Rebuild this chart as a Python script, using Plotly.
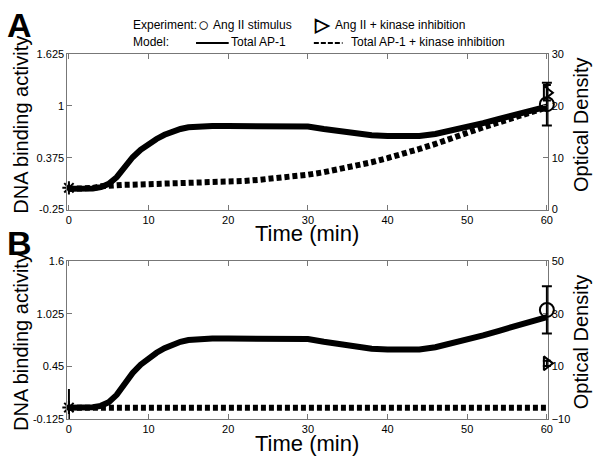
import plotly.graph_objects as go

W, H = 600, 467

# ---------------- data ----------------
time = [0, 2, 3, 4, 5, 6, 7, 8, 9, 10, 11, 12, 13, 14, 15, 16, 18, 20, 22, 24, 26, 28,
        30, 32, 34, 36, 38, 40, 42, 44, 46, 48, 50, 52, 54, 56, 58, 60]
ap1_total = [0.00, 0.00, 0.005, 0.02, 0.06, 0.14, 0.26, 0.38, 0.47, 0.54, 0.60, 0.65, 0.69,
             0.72, 0.74, 0.75, 0.755, 0.755, 0.755, 0.755, 0.755, 0.755,
             0.75, 0.72, 0.69, 0.665, 0.645, 0.635, 0.63, 0.635, 0.66, 0.70, 0.75, 0.79,
             0.84, 0.89, 0.94, 0.99]
ap1_inhib_A = [0.00, 0.00, 0.01, 0.03, 0.04, 0.045, 0.048, 0.05, 0.052, 0.055, 0.057, 0.06,
               0.062, 0.065, 0.067, 0.07, 0.08, 0.085, 0.095, 0.11, 0.125, 0.145,
               0.17, 0.20, 0.235, 0.275, 0.32, 0.37, 0.42, 0.48, 0.54, 0.61, 0.68, 0.74,
               0.80, 0.86, 0.92, 0.98]
ap1_inhib_B = [0.0] * len(time)

# experimental (optical density, right axis)
exp0_t = [0]
exp_t = [60]
A_exp0, A_exp0_err = [4.2], [0.8]
A_stim, A_stim_err = [20.3], [4.1]
A_kin, A_kin_err = [22.5], [1.5]
B_exp0, B_exp0_err = [-5.6], [7.0]
B_stim, B_stim_err = [31.5], [9.0]
B_kin, B_kin_err = [11.2], [1.0]

# axis ticks
A_left_ticks = [-0.25, 0.375, 1, 1.625]
A_left_text = ["-0.25", "0.375", "1", "1.625"]
A_right_ticks = [0, 10, 20, 30]
B_left_ticks = [-0.125, 0.45, 1.025, 1.6]
B_left_text = ["-0.125", "0.45", "1.025", "1.6"]
B_right_ticks = [-10, 10, 30, 50]
x_ticks = [0, 10, 20, 30, 40, 50, 60]
x_range = [-0.2, 60.2]
A_left_range, A_right_range = [-0.25, 1.625], [0, 30]
B_left_range, B_right_range = [-0.125, 1.6], [-10, 50]


def px(x):
    return x / W


def py(y):
    return 1 - y / H


FONT = "Liberation Sans, Arial, sans-serif"
AX = "#777777"

# pixel geometry
X0, X1 = 67, 553
A_T, A_B = 49, 209
B_T, B_B = 262, 424
EXT = 25  # extra unclipped room for the experimental markers / error bars at t = 60


def extend(rng, p_lo, p_hi, e):
    # rng spans p_hi - p_lo pixels; widen by e pixels on both sides
    k = (rng[1] - rng[0]) / (p_hi - p_lo)
    return [rng[0] - e * k, rng[1] + e * k]


fig = go.Figure()

solid = dict(color="black", width=6)
dashed = dict(color="black", width=6, dash="5px,3px")

panels = [
    ("x", "y", "y2", "x3", "y5", ap1_inhib_A, A_exp0, A_exp0_err, A_stim, A_stim_err, A_kin, A_kin_err),
    ("x2", "y3", "y4", "x4", "y6", ap1_inhib_B, B_exp0, B_exp0_err, B_stim, B_stim_err, B_kin, B_kin_err),
]

for xa, yl, yr, xe, ye, inhib, e0, e0e, st, ste, kn, kne in panels:
    fig.add_trace(go.Scatter(x=time, y=inhib, mode="lines", line=dashed, xaxis=xa, yaxis=yl,
                             showlegend=False, cliponaxis=False, hoverinfo="skip"))
    fig.add_trace(go.Scatter(x=time, y=ap1_total, mode="lines", line=solid, xaxis=xa, yaxis=yl,
                             showlegend=False, cliponaxis=False, hoverinfo="skip"))
    # t = 0 measurement on the optical-density axis (error bar clipped by the frame)
    fig.add_trace(go.Scatter(x=exp0_t, y=e0, mode="markers", xaxis=xa, yaxis=yr,
                             marker=dict(symbol="asterisk-open", size=11, color="black",
                                         line=dict(color="black", width=2)),
                             error_y=dict(type="data", array=e0e, color="black",
                                          thickness=2, width=0),
                             showlegend=False, cliponaxis=False))
    fig.add_trace(go.Scatter(x=exp_t, y=kn, mode="markers", xaxis=xe, yaxis=ye,
                             marker=dict(symbol="triangle-right-open", size=12, color="black",
                                         line=dict(color="black", width=2)),
                             error_y=dict(type="data", array=kne, color="black",
                                          thickness=2, width=4),
                             showlegend=False, cliponaxis=False))
    fig.add_trace(go.Scatter(x=exp_t, y=st, mode="markers", xaxis=xe, yaxis=ye,
                             marker=dict(symbol="circle-open", size=14, color="black",
                                         line=dict(color="black", width=2)),
                             error_y=dict(type="data", array=ste, color="black",
                                          thickness=2, width=5),
                             showlegend=False, cliponaxis=False))

xdom = [px(X0), px(X1)]
A_dom = [py(A_B), py(A_T)]
B_dom = [py(B_B), py(B_T)]

common_x = dict(range=x_range, tickvals=x_ticks, ticks="inside", ticklen=5,
                showline=True, linecolor=AX, linewidth=1, tickcolor=AX, mirror="ticks",
                showgrid=False, zeroline=False, tickfont=dict(size=11, color="black", family=FONT))
common_y = dict(ticks="inside", ticklen=5, showline=True, linecolor=AX, linewidth=1,
                tickcolor=AX, showgrid=False, zeroline=False,
                tickfont=dict(size=11, color="black", family=FONT))

hidden = dict(visible=False, showgrid=False, zeroline=False, fixedrange=True)
xe_range = extend(x_range, X0, X1, EXT)

fig.update_layout(
    width=W, height=H, margin=dict(l=0, r=0, t=0, b=0),
    paper_bgcolor="white", plot_bgcolor="rgba(0,0,0,0)",
    font=dict(family=FONT, color="black"),
    xaxis=dict(domain=xdom, anchor="y", **common_x),
    xaxis2=dict(domain=xdom, anchor="y3", **common_x),
    yaxis=dict(domain=A_dom, anchor="x", range=A_left_range, tickvals=A_left_ticks,
               ticktext=A_left_text, **common_y),
    yaxis2=dict(overlaying="y", side="right", anchor="x", range=A_right_range,
                tickvals=A_right_ticks, **common_y),
    yaxis3=dict(domain=B_dom, anchor="x2", range=B_left_range, tickvals=B_left_ticks,
                ticktext=B_left_text, **common_y),
    yaxis4=dict(overlaying="y3", side="right", anchor="x2", range=B_right_range,
                tickvals=B_right_ticks, **common_y),
    # hidden, slightly larger frames with identical scales so markers/error bars are not clipped
    xaxis3=dict(domain=[px(X0 - EXT), px(X1 + EXT)], anchor="y5", range=xe_range, **hidden),
    yaxis5=dict(domain=[py(A_B + EXT), py(A_T - EXT)], anchor="x3",
                range=extend(A_right_range, A_T, A_B, EXT), **hidden),
    xaxis4=dict(domain=[px(X0 - EXT), px(X1 + EXT)], anchor="y6", range=xe_range, **hidden),
    yaxis6=dict(domain=[py(B_B + EXT), py(B_T - EXT)], anchor="x4",
                range=extend(B_right_range, B_T, B_B, EXT), **hidden),
)

ann = []


def text(s, x, y, size, xanchor="center", angle=0, bold=False):
    ann.append(dict(text=("<b>%s</b>" % s) if bold else s, x=px(x), y=py(y), xref="paper",
                    yref="paper", xanchor=xanchor, yanchor="middle", showarrow=False,
                    textangle=angle, font=dict(size=size, family=FONT, color="black")))


# panel letters
text("A", 19, 19, 34, bold=True)
text("B", 19, 243, 34, bold=True)
# axis titles
for yc in [122, 345]:
    text("DNA binding activity", 20, yc, 20, angle=-90)
    text("Optical Density", 586, yc, 20, angle=-90)
text("Time (min)", 309, 233, 22)
text("Time (min)", 309, 449, 22)

# legend
text("Experiment:", 131, 19, 12, xanchor="left")
text("Model:", 131, 37, 12, xanchor="left")
text("○", 205, 19, 19, bold=True)
text("Ang II stimulus", 212, 19, 12, xanchor="left")
text("▷", 325, 19, 19, bold=True)
text("Ang II + kinase inhibition", 335, 19, 12, xanchor="left")
text("Total AP-1", 230, 37, 12, xanchor="left")
text("Total AP-1 + kinase inhibition", 352, 37, 12, xanchor="left")

fig.update_layout(annotations=ann)
fig.add_shape(type="line", xref="paper", yref="paper", x0=px(197), x1=px(230), y0=py(38), y1=py(38),
              line=dict(color="black", width=2))
fig.add_shape(type="line", xref="paper", yref="paper", x0=px(316), x1=px(345), y0=py(38), y1=py(38),
              line=dict(color="black", width=2, dash="5px,2px"))

fig.write_html("out.html", config={"displayModeBar": False},
               post_script="document.body.style.margin='0';")
